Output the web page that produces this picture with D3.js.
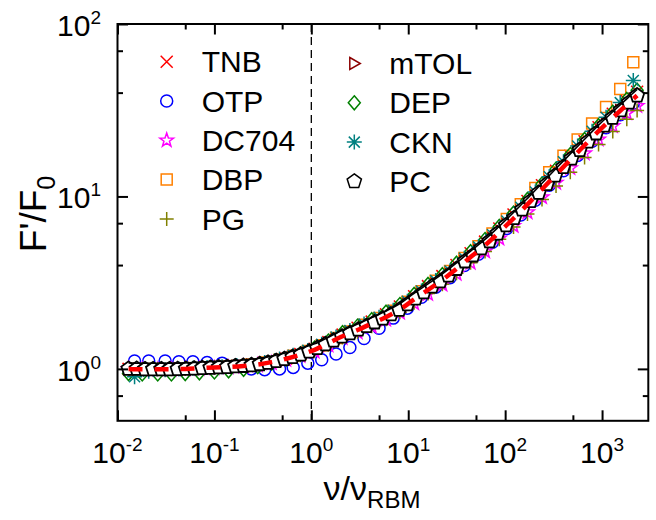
<!DOCTYPE html>
<html>
<head>
<meta charset="utf-8">
<script src="https://cdn.jsdelivr.net/npm/d3@7"></script>
<style>
  body { margin: 0; background: #fff; }
  svg { font-family: "Liberation Sans", Arial, Helvetica, sans-serif; }
</style>
</head>
<body>
<div id="wrapper"></div>
<script>
// ---- data ----
const nuB = [0.013,0.018,0.026,0.036,0.05,0.07,0.1,0.14,0.2,0.28,0.39,0.55,0.77,1.08,1.5,2.1,3,4.2,5.9,8.2,11.5,16,22.5,31.5,44,62,87,122,170,240,335,470,660,920,1290,1800,2300];
const nuC = [0.015,0.021,0.031,0.043,0.06,0.084,0.12,0.17,0.24,0.33,0.47,0.65,0.92,1.28,1.8,2.5,3.5,5,7,9.8,13.7,19.2,27,38,53,74,104,145,205,285,400,560,790,1100,1540,2100];
const nuPC = [0.013,0.0158,0.0192,0.0233,0.0283,0.0344,0.0418,0.0508,0.0617,0.075,0.091,0.111,0.135,0.164,0.199,0.242,0.294,0.357,0.434,0.527,0.64,0.78,0.95,1.15,1.4,1.7,2.07,2.51,3.05,3.71,4.5,5.47,6.65,8.08,9.82,11.9,14.5,17.6,21.4,26,31.6,38.4,46.7,56.7,68.9,83.7,102,124,150,183,222,270,328,398,484,588,715,869,1056,1283,1559,1895,2300];

const fTNB   = [1.00,0.995,0.995,0.995,1.00,1.01,1.02,1.03,1.04,1.06,1.10,1.15,1.22,1.31,1.43,1.58,1.73,1.88,2.07,2.3,2.64,3.02,3.45,4.0,4.68,5.47,6.52,7.85,9.4,11.6,14.1,17.2,20.9,25.2,30.2,35.8,40.5];
const fOTP   = [1.11,1.11,1.11,1.10,1.10,1.09,1.08,1.04,1.0,0.99,1.0,1.02,1.08,1.13,1.22,1.33,1.5,1.72,1.97,2.25,2.6,2.98,3.38,3.98,4.62,5.42,6.52,7.8,9.5,11.6,14.1,17.3,20.9,25,29.8,34.7];
const fDC704 = [1.0,0.99,0.99,0.99,0.995,1.0,1.01,1.02,1.03,1.05,1.08,1.13,1.19,1.26,1.37,1.51,1.63,1.76,1.93,2.12,2.4,2.72,3.08,3.56,4.12,4.8,5.7,6.75,8.1,9.9,12.0,14.6,17.8,21.4,25.6,30.4,33.5];
const fDBP   = [1.0,1.0,1.0,1.0,1.01,1.02,1.03,1.04,1.06,1.09,1.13,1.19,1.27,1.37,1.51,1.65,1.8,1.97,2.17,2.45,2.82,3.24,3.7,4.4,5.15,6.1,7.4,9.0,11.2,13.8,17.2,21.4,26.5,33,42,60];
const fPG    = [1.0,0.995,0.995,0.995,1.0,1.01,1.02,1.03,1.04,1.06,1.09,1.14,1.2,1.28,1.38,1.52,1.64,1.77,1.94,2.13,2.42,2.74,3.1,3.58,4.12,4.8,5.65,6.65,7.9,9.6,11.5,13.8,16.8,20,23.8,28,31.5];
const fMTOL  = [1.0,0.995,0.995,1.0,1.005,1.012,1.022,1.035,1.05,1.075,1.12,1.17,1.25,1.35,1.48,1.61,1.75,1.91,2.1,2.36,2.7,3.1,3.52,4.18,4.85,5.7,6.85,8.2,10.0,12.2,14.85,18.2,22,26.3,31.4,36.5];
const fDEP   = [0.94,0.935,0.935,0.935,0.94,0.95,0.96,0.975,0.995,1.03,1.08,1.14,1.22,1.32,1.45,1.62,1.77,1.93,2.13,2.36,2.7,3.09,3.52,4.1,4.78,5.62,6.7,8.0,9.6,11.8,14.4,17.5,21.4,25.7,30.8,36.5,41.3];
const fCKN   = [0.9,0.97,0.99,1.0,1.01,1.02,1.03,1.045,1.06,1.09,1.14,1.2,1.28,1.39,1.53,1.67,1.82,1.99,2.19,2.47,2.83,3.25,3.7,4.38,5.1,6.0,7.2,8.65,10.6,13.0,15.9,19.6,23.9,28.8,35,47];
const fPC    = [1.00,1.00,0.995,0.995,0.995,0.995,0.997,1.00,1.005,1.01,1.015,1.02,1.025,1.035,1.04,1.05,1.065,1.085,1.11,1.14,1.17,1.21,1.26,1.32,1.39,1.46,1.54,1.61,1.69,1.77,1.86,1.96,2.07,2.2,2.37,2.56,2.78,3.0,3.22,3.48,3.8,4.2,4.55,5.0,5.5,6.1,6.8,7.5,8.4,9.4,10.5,11.8,13.2,14.8,16.6,18.6,20.8,23.2,25.8,28.6,31.6,35,38.5];
// master curve (red dashed) on nuB
const fitF   = [1.00,0.995,0.995,0.995,1.00,1.01,1.02,1.027,1.04,1.06,1.095,1.145,1.21,1.29,1.41,1.545,1.68,1.83,2.0,2.21,2.53,2.87,3.28,3.8,4.45,5.2,6.2,7.45,9.0,11.0,13.4,16.3,19.8,23.9,28.6,34,38.5];

const names   = ["TNB","OTP","DC704","DBP","PG","mTOL","DEP","CKN","PC"];
const colors  = ["#ff0000","#0000ff","#ff00ff","#ff8000","#808000","#8b0000","#008000","#008080","#000000"];
const symbols = ["cross","circle","star","square","plus","triRight","diamond","asterisk","pentagon"];
const nuSets  = [nuB, nuC, nuB, nuC, nuB, nuC, nuB, nuC, nuPC];
const fSets   = [fTNB, fOTP, fDC704, fDBP, fPG, fMTOL, fDEP, fCKN, fPC];

const xTicks = [0.01,0.1,1,10,100,1000];
const xMinor = [0.05,0.5,5,50,500];
const yTicks = [1,10,100];
const yMinor = [0.7,4,7,40,70];

// ---- layout ----
const dims = {width: 656, height: 520, left: 117.5, right: 648.3, top: 24, bottom: 420.8};

const svg = d3.select("#wrapper").append("svg")
  .attr("width", dims.width).attr("height", dims.height);

const x = d3.scaleLog().domain([0.01, 3000]).range([dims.left, dims.right]);
const y = d3.scaleLog().domain([0.5, 100]).range([dims.bottom, dims.top]);

// marker paths
function symPath(kind) {
  if (kind === "cross") return "M-6,-6L6,6M-6,6L6,-6";
  if (kind === "plus") return "M-7,0H7M0,-7V7";
  if (kind === "asterisk") return "M-7.5,0H7.5M0,-7.5V7.5M-5.5,-5.5L5.5,5.5M-5.5,5.5L5.5,-5.5";
  if (kind === "square") return "M-5.5,-5.5H5.5V5.5H-5.5Z";
  if (kind === "diamond") return "M0,-7L6,0L0,7L-6,0Z";
  if (kind === "triRight") return "M-4.5,-6L6,0L-4.5,6Z";
  if (kind === "circle") return "M6,0A6,6 0 1,1 -6,0A6,6 0 1,1 6,0Z";
  if (kind === "star") {
    let p = [];
    for (let i = 0; i < 10; i++) {
      const r = i % 2 ? 2.9 : 7.2;
      const a = -Math.PI / 2 + i * Math.PI / 5;
      p.push([r * Math.cos(a), r * Math.sin(a)]);
    }
    return "M" + p.map(d => d.join(",")).join("L") + "Z";
  }
  if (kind === "pentagon") {
    let p = [];
    for (let i = 0; i < 5; i++) {
      const a = -Math.PI / 2 + i * 2 * Math.PI / 5;
      p.push([7.5 * Math.cos(a), 7.5 * Math.sin(a)]);
    }
    return "M" + p.map(d => d.join(",")).join("L") + "Z";
  }
}

// dashed line at nu = nu_RBM
svg.append("line")
  .attr("x1", x(1)).attr("x2", x(1))
  .attr("y1", dims.top).attr("y2", dims.bottom)
  .attr("stroke", "#000").attr("stroke-width", 1.3)
  .attr("stroke-dasharray", "8,5");

// data markers
const plot = svg.append("g");
names.forEach((name, i) => {
  const pts = nuSets[i].map((v, j) => [v, fSets[i][j]]);
  plot.append("g").selectAll("path")
    .data(pts)
    .enter()
    .append("path")
    .attr("d", symPath(symbols[i]))
    .attr("transform", d => `translate(${x(d[0])},${y(d[1])})`)
    .attr("fill", name === "PC" ? "#fff" : "none")
    .attr("stroke", colors[i])
    .attr("stroke-width", name === "PC" ? 1.8 : 1.5);
});

// master curve
const fitLine = d3.line()
  .x(d => x(d[0]))
  .y(d => y(d[1]))
  .curve(d3.curveCatmullRom);
const fitPts = nuB.map((v, j) => [v, fitF[j]]);

// black solid edge line riding on top of the PC band
svg.append("path")
  .datum(fitPts)
  .attr("d", fitLine)
  .attr("transform", "translate(0,-6)")
  .attr("fill", "none")
  .attr("stroke", "#000")
  .attr("stroke-width", 1.6);

svg.append("path")
  .datum(fitPts)
  .attr("d", fitLine)
  .attr("fill", "none")
  .attr("stroke", "#ff0000")
  .attr("stroke-width", 4.5)
  .attr("stroke-dasharray", "14,12");

// axes (ticks inward)
const axes = svg.append("g");
axes.append("g").attr("transform", `translate(0,${dims.bottom})`)
  .call(d3.axisBottom(x).tickValues(xTicks).tickSize(-10.5).tickFormat(""));
axes.append("g").attr("transform", `translate(0,${dims.bottom})`)
  .call(d3.axisBottom(x).tickValues(xMinor).tickSize(-5.5).tickFormat(""));
axes.append("g").attr("transform", `translate(0,${dims.top})`)
  .call(d3.axisTop(x).tickValues(xTicks).tickSize(-10.5).tickFormat(""));
axes.append("g").attr("transform", `translate(0,${dims.top})`)
  .call(d3.axisTop(x).tickValues(xMinor).tickSize(-5.5).tickFormat(""));
axes.append("g").attr("transform", `translate(${dims.left},0)`)
  .call(d3.axisLeft(y).tickValues(yTicks).tickSize(-10.5).tickFormat(""));
axes.append("g").attr("transform", `translate(${dims.left},0)`)
  .call(d3.axisLeft(y).tickValues(yMinor).tickSize(-5.5).tickFormat(""));
axes.append("g").attr("transform", `translate(${dims.right},0)`)
  .call(d3.axisRight(y).tickValues(yTicks).tickSize(-10.5).tickFormat(""));
axes.append("g").attr("transform", `translate(${dims.right},0)`)
  .call(d3.axisRight(y).tickValues(yMinor).tickSize(-5.5).tickFormat(""));
axes.selectAll(".domain").remove();
axes.selectAll(".tick line").attr("stroke", "#000").attr("stroke-width", 2);

svg.append("rect")
  .attr("x", dims.left).attr("y", dims.top)
  .attr("width", dims.right - dims.left).attr("height", dims.bottom - dims.top)
  .attr("fill", "none").attr("stroke", "#000").attr("stroke-width", 2);

// tick labels 10^n
function powLabel(sel, v) {
  const e = Math.round(Math.log10(v));
  sel.append("tspan").text("10");
  sel.append("tspan").attr("dy", -12).attr("font-size", 19).text(e);
}
xTicks.forEach(v => {
  const t = svg.append("text")
    .attr("x", x(v)).attr("y", 462.7)
    .attr("text-anchor", "middle")
    .attr("font-size", 30);
  powLabel(t, v);
});
yTicks.forEach(v => {
  const t = svg.append("text")
    .attr("x", 101).attr("y", y(v) + 12)
    .attr("text-anchor", "end")
    .attr("font-size", 30);
  powLabel(t, v);
});

// axis titles
const xt = svg.append("text")
  .attr("x", 372).attr("y", 500)
  .attr("text-anchor", "middle").attr("font-size", 34);
xt.append("tspan").text("ν/ν");
xt.append("tspan").attr("dy", 8).attr("font-size", 24).text("RBM");

const yt = svg.append("text")
  .attr("transform", "translate(46,214) rotate(-90)")
  .attr("text-anchor", "middle").attr("font-size", 37);
yt.append("tspan").text("F'/F");
yt.append("tspan").attr("dy", 9).attr("font-size", 25).text("0");

// legend
const legend = svg.append("g");
names.forEach((name, i) => {
  const col = i < 5 ? 0 : 1;
  const row = col === 0 ? i : i - 5;
  const sx = col === 0 ? 166.7 : 354.3;
  const sy = (col === 0 ? 61.7 : 63.5) + row * 39.3;
  legend.append("path")
    .attr("d", symPath(symbols[i]))
    .attr("transform", `translate(${sx},${sy})`)
    .attr("fill", "none")
    .attr("stroke", colors[i])
    .attr("stroke-width", 1.5);
  legend.append("text")
    .attr("x", sx + 35).attr("y", sy + 10.6)
    .attr("font-size", 30)
    .text(name);
});
</script>
</body>
</html>
